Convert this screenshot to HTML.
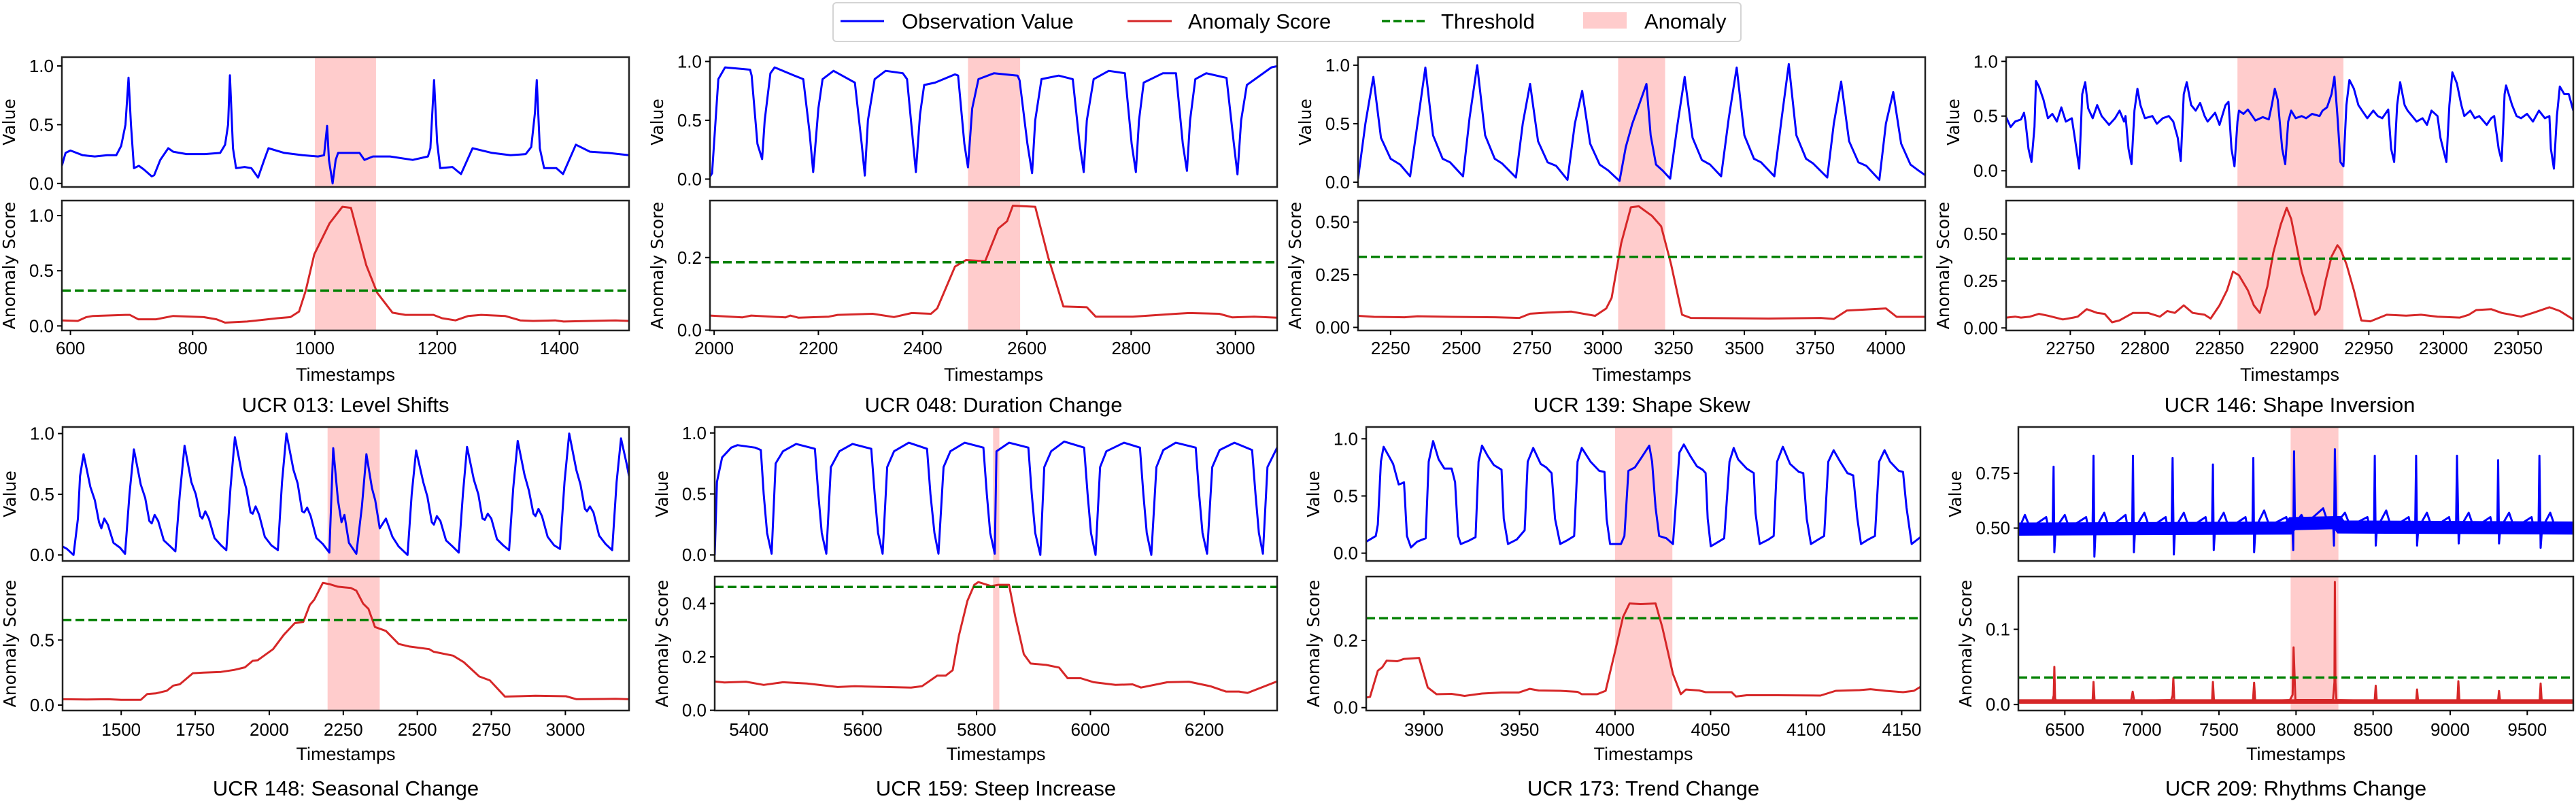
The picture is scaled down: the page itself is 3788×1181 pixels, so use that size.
<!DOCTYPE html>
<html><head><meta charset="utf-8"><style>
html,body{margin:0;padding:0;background:#fff}
svg{display:block}
.tk{font-family:"Liberation Sans",sans-serif;font-size:26px;fill:#000}
.yl{font-family:"DejaVu Sans",sans-serif;font-size:25px;fill:#000}
.xl{font-family:"Liberation Sans",sans-serif;font-size:27px;fill:#000}
.ti{font-family:"Liberation Sans",sans-serif;font-size:31px;fill:#000}
.lg{font-family:"Liberation Sans",sans-serif;font-size:31px;fill:#000}
</style></head><body>
<svg id="fig" xmlns="http://www.w3.org/2000/svg" width="3788" height="1181" viewBox="0 0 3788 1181">
<g>
<rect x="1225" y="4" width="1335" height="57" rx="5" fill="#fff" stroke="#d4d4d4" stroke-width="2"/>
<line x1="1236" y1="31" x2="1300" y2="31" stroke="#0000ff" stroke-width="3"/>
<text class="lg" x="1326" y="42">Observation Value</text>
<line x1="1658" y1="31" x2="1723" y2="31" stroke="#d62728" stroke-width="3"/>
<text class="lg" x="1747" y="42">Anomaly Score</text>
<line x1="2032" y1="31" x2="2096" y2="31" stroke="#008000" stroke-width="3.5" stroke-dasharray="12 5"/>
<text class="lg" x="2119" y="42">Threshold</text>
<rect x="2328" y="18" width="64" height="24" fill="#ffcccc"/>
<text class="lg" x="2418" y="42">Anomaly</text>
</g>
</svg>
<script>
// ---------- data ----------
const titles=["UCR 013: Level Shifts","UCR 048: Duration Change","UCR 139: Shape Skew","UCR 146: Shape Inversion","UCR 148: Seasonal Change","UCR 159: Steep Increase","UCR 173: Trend Change","UCR 209: Rhythms Change"];
const thresholds=[0.32,0.187,0.335,0.369,0.655,0.462,0.266,0.0358];
const anomalyStart=[1000,2487,3054,22862,2197,5829,4000,7965];
const anomalyEnd=[1100,2587,3220,22933,2373,5840,4030,8275];
const noiseAmpObs=[0,0,0,0,0,0,0,0.03];
const noiseAmpScore=[0,0,0,0,0,0,0,0.003];
const obs8Base=[[6199,0.495],[7950,0.5],[7975,0.52],[8270,0.525],[8290,0.505],[9799,0.5]];
const score8Base=[[6199,0.004],[9799,0.004]];

const xTicks=[[600,800,1000,1200,1400],[2000,2200,2400,2600,2800,3000],[2250,2500,2750,3000,3250,3500,3750,4000],[22750,22800,22850,22900,22950,23000,23050],[1500,1750,2000,2250,2500,2750,3000],[5400,5600,5800,6000,6200],[3900,3950,4000,4050,4100,4150],[6500,7000,7500,8000,8500,9000,9500]];
const topYTicks=[[0,0.5,1],[0,0.5,1],[0,0.5,1],[0,0.5,1],[0,0.5,1],[0,0.5,1],[0,0.5,1],[0.5,0.75]];
const topYLabels=[["0.0","0.5","1.0"],["0.0","0.5","1.0"],["0.0","0.5","1.0"],["0.0","0.5","1.0"],["0.0","0.5","1.0"],["0.0","0.5","1.0"],["0.0","0.5","1.0"],["0.50","0.75"]];
const botYTicks=[[0,0.5,1],[0,0.2],[0,0.25,0.5],[0,0.25,0.5],[0,0.5],[0,0.2,0.4],[0,0.2],[0,0.1]];
const botYLabels=[["0.0","0.5","1.0"],["0.0","0.2"],["0.00","0.25","0.50"],["0.00","0.25","0.50"],["0.0","0.5"],["0.0","0.2","0.4"],["0.0","0.2"],["0.0","0.1"]];

const obs1=[[586,0.15],[592,0.26],[600,0.28],[620,0.24],[640,0.23],[660,0.24],[675,0.24],[683,0.32],[690,0.5],[695,0.9],[699,0.5],[704,0.13],[712,0.15],[720,0.12],[733,0.06],[737,0.07],[747,0.2],[760,0.3],[768,0.27],[790,0.25],[820,0.25],[845,0.26],[853,0.33],[858,0.5],[861,0.92],[866,0.3],[871,0.13],[885,0.14],[896,0.13],[907,0.05],[917,0.2],[924,0.3],[950,0.26],[980,0.24],[1005,0.23],[1015,0.24],[1020,0.49],[1023,0.2],[1029,0.0],[1034,0.2],[1038,0.26],[1060,0.26],[1073,0.26],[1081,0.2],[1095,0.23],[1123,0.23],[1160,0.2],[1185,0.23],[1189,0.3],[1195,0.88],[1200,0.35],[1205,0.13],[1225,0.14],[1239,0.08],[1258,0.3],[1290,0.26],[1320,0.24],[1345,0.25],[1354,0.31],[1360,0.6],[1363,0.88],[1368,0.3],[1375,0.13],[1395,0.13],[1406,0.08],[1427,0.33],[1450,0.27],[1480,0.26],[1514,0.24]];
const score1=[[586,0.05],[612,0.045],[626,0.08],[637,0.09],[690,0.1],[697,0.1],[711,0.06],[740,0.06],[768,0.09],[818,0.08],[839,0.06],[853,0.03],[889,0.04],[939,0.07],[960,0.08],[974,0.13],[985,0.32],[999,0.65],[1024,0.93],[1045,1.08],[1059,1.07],[1084,0.55],[1102,0.3],[1127,0.12],[1148,0.1],[1194,0.1],[1208,0.07],[1230,0.05],[1251,0.09],[1272,0.1],[1311,0.09],[1336,0.05],[1357,0.045],[1393,0.05],[1407,0.04],[1492,0.05],[1514,0.045]];

const obs2=[[1992,0.02],[1996,0.05],[2008,0.85],[2021,0.95],[2069,0.93],[2072,0.88],[2083,0.3],[2092,0.17],[2097,0.5],[2108,0.9],[2116,0.95],[2154,0.88],[2171,0.85],[2183,0.4],[2190,0.06],[2200,0.6],[2208,0.85],[2229,0.92],[2266,0.83],[2270,0.82],[2283,0.3],[2289,0.03],[2295,0.5],[2308,0.85],[2329,0.92],[2362,0.9],[2370,0.85],[2387,0.06],[2395,0.55],[2403,0.8],[2424,0.82],[2462,0.89],[2468,0.88],[2480,0.3],[2487,0.1],[2495,0.6],[2507,0.85],[2537,0.9],[2582,0.88],[2586,0.84],[2601,0.3],[2610,0.05],[2616,0.5],[2628,0.85],[2661,0.88],[2688,0.85],[2701,0.3],[2709,0.06],[2715,0.5],[2728,0.85],[2757,0.92],[2788,0.9],[2801,0.3],[2809,0.06],[2815,0.5],[2824,0.82],[2861,0.9],[2886,0.9],[2899,0.3],[2907,0.07],[2913,0.5],[2923,0.85],[2944,0.9],[2983,0.86],[2997,0.3],[3004,0.04],[3011,0.5],[3022,0.8],[3069,0.95],[3080,0.96]];
const score2=[[1992,0.04],[2054,0.035],[2071,0.04],[2137,0.035],[2146,0.04],[2162,0.034],[2220,0.037],[2237,0.042],[2304,0.045],[2345,0.036],[2379,0.047],[2416,0.045],[2428,0.06],[2462,0.175],[2483,0.193],[2520,0.19],[2545,0.28],[2562,0.3],[2573,0.343],[2616,0.34],[2641,0.2],[2670,0.065],[2715,0.063],[2732,0.037],[2803,0.037],[2886,0.045],[2911,0.047],[2969,0.045],[2994,0.035],[3036,0.037],[3080,0.034]];

const obs3=[[2135,0.03],[2161,0.5],[2189,0.9],[2216,0.38],[2250,0.2],[2284,0.15],[2319,0.05],[2345,0.5],[2373,0.98],[2400,0.4],[2434,0.2],[2460,0.17],[2506,0.05],[2529,0.55],[2556,1.0],[2584,0.4],[2618,0.2],[2644,0.16],[2693,0.04],[2717,0.5],[2743,0.84],[2771,0.35],[2805,0.17],[2835,0.14],[2875,0.02],[2901,0.5],[2927,0.78],[2955,0.33],[2989,0.15],[3019,0.1],[3059,0.01],[3081,0.3],[3104,0.5],[3119,0.6],[3154,0.84],[3169,0.4],[3188,0.15],[3211,0.1],[3238,0.03],[3264,0.5],[3289,0.9],[3317,0.38],[3350,0.19],[3379,0.15],[3418,0.05],[3445,0.55],[3473,0.98],[3500,0.4],[3534,0.2],[3559,0.17],[3606,0.05],[3632,0.55],[3657,1.01],[3684,0.4],[3718,0.2],[3743,0.16],[3793,0.04],[3816,0.5],[3842,0.86],[3870,0.35],[3903,0.17],[3931,0.14],[3977,0.02],[4000,0.5],[4026,0.77],[4054,0.33],[4087,0.15],[4115,0.1],[4139,0.06]];
const score3=[[2135,0.055],[2192,0.05],[2299,0.048],[2345,0.053],[2468,0.05],[2621,0.048],[2705,0.045],[2743,0.065],[2805,0.07],[2889,0.075],[2973,0.055],[3012,0.09],[3031,0.14],[3065,0.4],[3099,0.57],[3127,0.575],[3173,0.53],[3206,0.48],[3241,0.3],[3280,0.06],[3311,0.045],[3586,0.042],[3770,0.045],[3816,0.04],[3862,0.08],[4000,0.09],[4038,0.05],[4139,0.05]];

const obs4=[[22707,0.49],[22710,0.4],[22713,0.45],[22717,0.47],[22719,0.53],[22720,0.45],[22722,0.2],[22724,0.08],[22726,0.4],[22727,0.82],[22729,0.77],[22732,0.65],[22735,0.48],[22738,0.52],[22741,0.45],[22744,0.58],[22747,0.45],[22751,0.48],[22753,0.3],[22756,0.02],[22758,0.7],[22760,0.81],[22762,0.57],[22765,0.48],[22768,0.6],[22771,0.5],[22776,0.42],[22780,0.48],[22783,0.55],[22786,0.45],[22787,0.5],[22789,0.2],[22791,0.06],[22793,0.55],[22795,0.75],[22797,0.6],[22800,0.48],[22805,0.5],[22808,0.43],[22812,0.48],[22816,0.5],[22819,0.45],[22822,0.3],[22824,0.09],[22826,0.7],[22828,0.81],[22831,0.6],[22834,0.55],[22837,0.62],[22840,0.5],[22842,0.45],[22847,0.53],[22850,0.42],[22854,0.6],[22856,0.63],[22858,0.2],[22860,0.04],[22862,0.45],[22863,0.55],[22866,0.52],[22869,0.56],[22872,0.5],[22874,0.46],[22879,0.49],[22883,0.47],[22885,0.6],[22887,0.75],[22889,0.65],[22892,0.2],[22894,0.06],[22896,0.45],[22898,0.55],[22901,0.48],[22905,0.5],[22908,0.48],[22912,0.52],[22917,0.5],[22919,0.55],[22922,0.58],[22925,0.7],[22927,0.86],[22929,0.5],[22931,0.08],[22933,0.04],[22935,0.6],[22937,0.83],[22940,0.75],[22943,0.6],[22946,0.54],[22949,0.48],[22953,0.55],[22956,0.5],[22959,0.48],[22963,0.56],[22965,0.2],[22967,0.08],[22969,0.6],[22971,0.81],[22974,0.6],[22976,0.55],[22979,0.5],[22982,0.45],[22986,0.48],[22989,0.42],[22992,0.55],[22996,0.5],[22998,0.3],[23002,0.08],[23004,0.6],[23006,0.9],[23009,0.8],[23012,0.6],[23014,0.5],[23018,0.55],[23021,0.48],[23024,0.5],[23029,0.42],[23032,0.48],[23034,0.5],[23037,0.2],[23039,0.09],[23041,0.7],[23042,0.78],[23046,0.6],[23049,0.5],[23052,0.48],[23056,0.52],[23060,0.45],[23064,0.55],[23068,0.48],[23071,0.5],[23072,0.2],[23074,0.02],[23076,0.5],[23078,0.77],[23081,0.7],[23084,0.7],[23087,0.55]];
const score4=[[22707,0.055],[22713,0.06],[22717,0.055],[22723,0.06],[22729,0.075],[22735,0.065],[22745,0.045],[22752,0.055],[22755,0.06],[22761,0.1],[22768,0.08],[22773,0.075],[22778,0.03],[22783,0.04],[22792,0.08],[22802,0.08],[22810,0.06],[22815,0.09],[22820,0.08],[22826,0.12],[22832,0.08],[22840,0.07],[22844,0.05],[22850,0.12],[22855,0.2],[22859,0.3],[22863,0.28],[22869,0.2],[22873,0.12],[22877,0.08],[22882,0.22],[22886,0.4],[22891,0.55],[22895,0.64],[22898,0.58],[22905,0.3],[22911,0.15],[22914,0.07],[22917,0.1],[22921,0.25],[22925,0.38],[22929,0.44],[22931,0.42],[22935,0.34],[22940,0.2],[22945,0.04],[22951,0.035],[22962,0.07],[22975,0.065],[22985,0.07],[22996,0.06],[23011,0.055],[23017,0.07],[23022,0.095],[23032,0.1],[23039,0.08],[23052,0.06],[23060,0.08],[23071,0.11],[23078,0.09],[23087,0.045]];

const obs5=[[1302,0.07],[1317,0.05],[1339,0.0],[1354,0.3],[1361,0.65],[1373,0.83],[1396,0.56],[1411,0.45],[1425,0.27],[1433,0.22],[1443,0.3],[1455,0.25],[1474,0.1],[1496,0.06],[1513,0.01],[1528,0.5],[1543,0.87],[1566,0.58],[1581,0.47],[1595,0.28],[1603,0.26],[1613,0.33],[1625,0.28],[1644,0.12],[1666,0.07],[1683,0.03],[1698,0.5],[1714,0.9],[1737,0.6],[1752,0.5],[1767,0.32],[1774,0.3],[1784,0.36],[1796,0.3],[1815,0.14],[1837,0.08],[1855,0.04],[1869,0.55],[1884,0.97],[1907,0.68],[1922,0.55],[1937,0.35],[1944,0.34],[1954,0.4],[1966,0.33],[1985,0.15],[2007,0.08],[2029,0.04],[2043,0.6],[2058,1.0],[2082,0.7],[2096,0.59],[2111,0.36],[2118,0.35],[2128,0.39],[2140,0.32],[2159,0.14],[2181,0.09],[2203,0.02],[2216,0.88],[2232,0.45],[2244,0.27],[2254,0.33],[2269,0.1],[2294,0.01],[2313,0.4],[2328,0.83],[2347,0.55],[2358,0.45],[2373,0.22],[2394,0.3],[2416,0.15],[2437,0.07],[2467,0.0],[2481,0.5],[2496,0.86],[2520,0.6],[2534,0.48],[2549,0.27],[2556,0.25],[2566,0.32],[2578,0.28],[2597,0.12],[2619,0.07],[2640,0.02],[2654,0.5],[2668,0.89],[2691,0.62],[2706,0.5],[2720,0.3],[2728,0.29],[2738,0.34],[2750,0.3],[2769,0.13],[2790,0.08],[2810,0.04],[2824,0.55],[2839,0.94],[2862,0.66],[2877,0.53],[2892,0.34],[2899,0.32],[2909,0.38],[2921,0.32],[2940,0.15],[2962,0.08],[2982,0.05],[2997,0.6],[3013,1.0],[3037,0.7],[3051,0.58],[3066,0.38],[3073,0.36],[3083,0.4],[3095,0.35],[3114,0.16],[3136,0.09],[3158,0.04],[3173,0.6],[3188,0.96],[3207,0.75],[3215,0.65]];
const score5=[[1302,0.045],[1383,0.043],[1456,0.045],[1500,0.04],[1566,0.04],[1588,0.085],[1617,0.09],[1654,0.11],[1676,0.15],[1698,0.16],[1742,0.245],[1778,0.25],[1837,0.255],[1881,0.27],[1918,0.29],[1944,0.34],[1961,0.345],[2013,0.43],[2049,0.54],[2086,0.63],[2115,0.64],[2137,0.77],[2152,0.81],[2181,0.94],[2203,0.93],[2232,0.91],[2276,0.9],[2294,0.88],[2317,0.78],[2335,0.74],[2357,0.6],[2394,0.57],[2437,0.47],[2474,0.45],[2540,0.43],[2555,0.41],[2621,0.38],[2657,0.33],[2709,0.22],[2745,0.19],[2796,0.065],[2840,0.068],[2899,0.072],[3002,0.068],[3038,0.045],[3170,0.048],[3215,0.045]];

const obs6=[[5340,0.0],[5344,0.6],[5353,0.8],[5369,0.88],[5380,0.9],[5411,0.88],[5421,0.86],[5426,0.5],[5432,0.18],[5440,0.01],[5447,0.75],[5460,0.85],[5483,0.91],[5516,0.87],[5522,0.5],[5528,0.18],[5536,0.01],[5544,0.72],[5559,0.85],[5582,0.91],[5615,0.87],[5621,0.5],[5627,0.18],[5635,0.01],[5643,0.72],[5655,0.85],[5681,0.92],[5713,0.87],[5719,0.5],[5726,0.18],[5733,0.01],[5742,0.72],[5754,0.85],[5779,0.92],[5812,0.88],[5818,0.5],[5824,0.18],[5832,0.01],[5835,0.85],[5857,0.92],[5891,0.88],[5897,0.5],[5903,0.18],[5912,0.0],[5919,0.72],[5931,0.85],[5954,0.93],[5989,0.88],[5995,0.5],[6001,0.18],[6009,0.0],[6017,0.72],[6028,0.85],[6059,0.92],[6087,0.88],[6093,0.5],[6099,0.18],[6107,0.0],[6116,0.72],[6128,0.86],[6150,0.92],[6185,0.88],[6191,0.5],[6197,0.18],[6205,0.01],[6214,0.72],[6227,0.86],[6253,0.92],[6284,0.86],[6290,0.5],[6296,0.18],[6303,0.01],[6311,0.72],[6328,0.88]];
const score6=[[5340,0.108],[5357,0.104],[5395,0.107],[5426,0.095],[5460,0.105],[5502,0.1],[5556,0.087],[5586,0.09],[5685,0.085],[5704,0.09],[5731,0.13],[5746,0.13],[5758,0.15],[5769,0.28],[5784,0.41],[5796,0.47],[5803,0.48],[5826,0.465],[5838,0.47],[5857,0.47],[5868,0.35],[5883,0.21],[5895,0.175],[5922,0.17],[5945,0.16],[5960,0.12],[5983,0.12],[6006,0.105],[6044,0.095],[6074,0.097],[6089,0.085],[6135,0.105],[6173,0.107],[6211,0.09],[6238,0.07],[6261,0.07],[6276,0.065],[6328,0.108]];

const obs7=[[3869.8,0.1],[3874.8,0.15],[3875.9,0.25],[3877.5,0.8],[3878.9,0.93],[3881.6,0.85],[3883.9,0.78],[3886.8,0.6],[3888.4,0.61],[3889.6,0.62],[3891.1,0.15],[3893.2,0.05],[3896.4,0.1],[3900.9,0.13],[3902.5,0.8],[3904.8,0.98],[3907.7,0.82],[3910.7,0.74],[3914.5,0.74],[3916.3,0.62],[3917.9,0.15],[3919.3,0.08],[3923.6,0.11],[3927.0,0.14],[3928.6,0.8],[3930.4,0.94],[3933.4,0.85],[3936.6,0.77],[3940.6,0.73],[3941.8,0.3],[3944.0,0.08],[3948.6,0.12],[3952.7,0.2],[3954.3,0.8],[3957.2,0.92],[3961.1,0.78],[3964.0,0.75],[3966.8,0.7],[3968.6,0.3],[3971.3,0.08],[3974.7,0.11],[3978.6,0.15],[3980.4,0.8],[3982.6,0.92],[3987.2,0.8],[3991.7,0.72],[3994.5,0.71],[3995.6,0.3],[3997.4,0.08],[4003.1,0.08],[4004.9,0.15],[4007.0,0.72],[4010.4,0.75],[4014.0,0.84],[4017.9,0.94],[4019.4,0.8],[4021.2,0.4],[4023.1,0.15],[4026.9,0.13],[4030.3,0.08],[4033.7,0.88],[4036.0,0.95],[4039.4,0.85],[4042.8,0.76],[4045.8,0.73],[4047.4,0.7],[4048.5,0.3],[4050.1,0.06],[4054.2,0.1],[4057.1,0.13],[4059.9,0.8],[4062.1,0.92],[4064.4,0.82],[4068.9,0.74],[4072.6,0.7],[4073.5,0.35],[4075.7,0.08],[4080.3,0.12],[4083.0,0.15],[4084.8,0.8],[4087.8,0.93],[4091.6,0.78],[4096.2,0.71],[4098.5,0.7],[4100.3,0.3],[4102.5,0.08],[4106.4,0.12],[4109.4,0.15],[4111.6,0.8],[4114.4,0.9],[4117.8,0.8],[4121.6,0.7],[4124.6,0.68],[4126.8,0.3],[4128.7,0.08],[4132.5,0.12],[4136.0,0.15],[4138.2,0.8],[4141.0,0.9],[4143.9,0.8],[4148.4,0.72],[4150.7,0.71],[4152.5,0.4],[4155.2,0.08],[4159.8,0.14]];
const score7=[[3869.8,0.03],[3871.8,0.032],[3875.9,0.11],[3878.2,0.12],[3880.5,0.14],[3886.1,0.138],[3889.6,0.145],[3897.5,0.148],[3902.0,0.06],[3906.6,0.04],[3914.5,0.041],[3921.3,0.035],[3930.4,0.042],[3940.6,0.045],[3949.7,0.045],[3955.4,0.056],[3960.0,0.051],[3971.3,0.05],[3980.4,0.047],[3982.6,0.04],[3990.6,0.04],[3995.1,0.05],[3999.7,0.16],[4004.2,0.27],[4007.6,0.31],[4013.3,0.308],[4021.2,0.31],[4024.7,0.24],[4030.3,0.1],[4034.4,0.04],[4037.1,0.054],[4044.0,0.051],[4047.4,0.046],[4061.0,0.046],[4063.3,0.033],[4068.9,0.037],[4084.8,0.037],[4107.5,0.036],[4115.5,0.05],[4128.0,0.052],[4133.7,0.055],[4141.6,0.05],[4150.7,0.046],[4156.4,0.05],[4159.8,0.062]];

const obs8=[[6199,0.49],[6241,0.56],[6275,0.5],[6379,0.55],[6393,0.5],[6421,0.5],[6427,0.78],[6432,0.39],[6441,0.5],[6500,0.56],[6528,0.5],[6638,0.55],[6652,0.5],[6680,0.5],[6686,0.83],[6692,0.37],[6700,0.5],[6756,0.57],[6787,0.5],[6894,0.56],[6908,0.5],[6937,0.5],[6942,0.83],[6948,0.39],[6956,0.5],[7016,0.57],[7049,0.5],[7154,0.55],[7168,0.5],[7193,0.5],[7199,0.82],[7207,0.38],[7215,0.5],[7272,0.57],[7306,0.5],[7413,0.55],[7427,0.5],[7455,0.5],[7461,0.79],[7466,0.4],[7475,0.5],[7531,0.57],[7565,0.5],[7672,0.55],[7686,0.5],[7717,0.5],[7723,0.82],[7728,0.39],[7737,0.5],[7793,0.58],[7827,0.51],[7937,0.55],[7951,0.51],[7976,0.51],[7982,0.4],[7987,0.85],[7993,0.52],[8035,0.56],[8063,0.52],[8176,0.59],[8204,0.53],[8241,0.53],[8246,0.42],[8252,0.86],[8261,0.52],[8317,0.57],[8351,0.51],[8463,0.55],[8478,0.5],[8506,0.5],[8511,0.83],[8517,0.42],[8525,0.5],[8585,0.58],[8618,0.5],[8731,0.55],[8745,0.5],[8773,0.5],[8779,0.83],[8785,0.42],[8793,0.5],[8849,0.57],[8883,0.5],[8993,0.55],[9007,0.5],[9038,0.5],[9044,0.83],[9055,0.43],[9063,0.5],[9120,0.57],[9154,0.5],[9261,0.55],[9275,0.5],[9306,0.5],[9311,0.81],[9317,0.43],[9325,0.5],[9382,0.57],[9416,0.5],[9528,0.55],[9542,0.5],[9573,0.5],[9579,0.83],[9587,0.41],[9596,0.5],[9649,0.57],[9683,0.5],[9799,0.5]];
const score8=[[6199,0.004],[6420,0.005],[6428,0.012],[6432,0.05],[6437,0.008],[6445,0.004],[6680,0.004],[6686,0.03],[6693,0.004],[6930,0.005],[6940,0.017],[6950,0.005],[7190,0.006],[7199,0.012],[7204,0.035],[7210,0.005],[7455,0.004],[7461,0.03],[7468,0.004],[7720,0.004],[7728,0.029],[7735,0.004],[7960,0.006],[7978,0.013],[7984,0.076],[7990,0.04],[7996,0.006],[8240,0.006],[8249,0.03],[8252,0.163],[8256,0.03],[8262,0.006],[8510,0.005],[8517,0.025],[8524,0.004],[8779,0.004],[8785,0.02],[8792,0.004],[9047,0.005],[9053,0.031],[9060,0.004],[9310,0.004],[9317,0.018],[9324,0.004],[9580,0.004],[9587,0.028],[9594,0.004],[9799,0.004]];

const obsSeries=[obs1,obs2,obs3,obs4,obs5,obs6,obs7,obs8];
const scoreSeries=[score1,score2,score3,score4,score5,score6,score7,score8];
const obsBase=[null,null,null,null,null,null,null,obs8Base];
const scoreBase=[null,null,null,null,null,null,null,score8Base];

// ---------- layout (axis limits & pixel frames) ----------
const xLim=[[586,1514],[1992,3080],[2135,4139],[22707,23087],[1302,3215],[5340,6328],[3869.8,4159.8],[6198.6,9798.6]];
const topLim=[[-0.03,1.075],[-0.067,1.037],[-0.041,1.069],[-0.148,1.039],[-0.049,1.054],[-0.049,1.049],[-0.068,1.103],[0.35,0.961]];
const botLim=[[-0.041,1.136],[-0.001,0.357],[-0.0145,0.602],[-0.0135,0.678],[-0.042,0.988],[-0.001,0.5007],[-0.0086,0.39],[-0.008,0.1701]];
const frames=[[91,925,0],[1044,1878,0],[1997,2831,0],[2950,3784,0],[92,925,1],[1051,1878,1],[2009,2824,1],[2968,3784,1]];
const rows=[{tt:84,tb:275,bt:295,bb:486,tick:512,xl:551,title:595},{tt:628,tb:825,bt:848,bb:1045,tick:1073,xl:1109,title:1159}];

const NS="http://www.w3.org/2000/svg";
const svg=document.getElementById("fig");
function el(tag,parent){const e=document.createElementNS(NS,tag);parent.appendChild(e);return e;}
function lin(d0,d1,r0,r1){return v=>r0+(v-d0)/(d1-d0)*(r1-r0);}
const defs=el("defs",svg);

for(let i=0;i<8;i++){
  const [x0,x1,r]=frames[i];const R=rows[r];
  const xs=lin(xLim[i][0],xLim[i][1],x0,x1);
  const g=el("g",svg);
  
  
  const subs=[{t:R.tt,b:R.tb,lim:topLim[i],data:obsSeries[i],base:obsBase[i],col:"#0000ff",name:"value",noise:noiseAmpObs[i],yt:topYTicks[i],yl:topYLabels[i],lab:"Value"},
              {t:R.bt,b:R.bb,lim:botLim[i],data:scoreSeries[i],base:scoreBase[i],col:"#d62728",name:"score",noise:noiseAmpScore[i],yt:botYTicks[i],yl:botYLabels[i],lab:"Anomaly Score"}];
  subs.forEach((s,k)=>{
    const ys=lin(s.lim[0],s.lim[1],s.b,s.t);
    const cid="c"+i+"_"+k;
    const cp=el("clipPath",defs);cp.setAttribute("id",cid);
    const cr=el("rect",cp);cr.setAttribute("x",x0);cr.setAttribute("y",s.t);cr.setAttribute("width",x1-x0);cr.setAttribute("height",s.b-s.t);
    const ag=el("g",g);ag.setAttribute("clip-path","url(#"+cid+")");
    
    
    const an=el("rect",ag);
    
    
    const ax0=xs(anomalyStart[i]),ax1=xs(anomalyEnd[i]);
    an.setAttribute("x",ax0);an.setAttribute("y",s.t);an.setAttribute("width",Math.max(ax1-ax0,1));an.setAttribute("height",s.b-s.t);an.setAttribute("fill","#ffcccc");
    if(s.noise>0 && s.base){
      const band=el("polyline",ag);
      
      
      band.setAttribute("points",s.base.map(p=>xs(p[0]).toFixed(1)+","+ys(p[1]).toFixed(1)).join(" "));
      band.setAttribute("fill","none");band.setAttribute("stroke",s.col);
      band.setAttribute("stroke-width",(Math.abs(ys(s.noise)-ys(0))*2).toFixed(1));
    }
    const pl=el("polyline",ag);
    
    
    pl.setAttribute("points",s.data.map(p=>xs(p[0]).toFixed(1)+","+ys(p[1]).toFixed(1)).join(" "));
    pl.setAttribute("fill","none");pl.setAttribute("stroke",s.col);pl.setAttribute("stroke-width","3");pl.setAttribute("stroke-linejoin","round");
    if(k===1){
      const th=el("line",ag);
      
      
      const ty=ys(thresholds[i]);
      th.setAttribute("x1",x0);th.setAttribute("x2",x1);th.setAttribute("y1",ty);th.setAttribute("y2",ty);
      th.setAttribute("stroke","#008000");th.setAttribute("stroke-width","3.5");th.setAttribute("stroke-dasharray","13 6");
    }
    const fr=el("rect",g);
    
    
    fr.setAttribute("x",x0);fr.setAttribute("y",s.t);fr.setAttribute("width",x1-x0);fr.setAttribute("height",s.b-s.t);
    fr.setAttribute("fill","none");fr.setAttribute("stroke","#222");fr.setAttribute("stroke-width","2.5");
    let maxLen=0;
    s.yt.forEach((v,j)=>{
      const y=ys(v);
      const tl=el("line",g);
      
      
      tl.setAttribute("x1",x0-7);tl.setAttribute("x2",x0);tl.setAttribute("y1",y);tl.setAttribute("y2",y);tl.setAttribute("stroke","#000");tl.setAttribute("stroke-width","2");
      const tx=el("text",g);
      
      
      tx.setAttribute("class","tk");tx.setAttribute("x",x0-12);tx.setAttribute("y",y+9);tx.setAttribute("text-anchor","end");
      tx.textContent=s.yl[j];maxLen=Math.max(maxLen,s.yl[j].length);
    });
    const off=maxLen>=4?93:78;
    const yl=el("text",g);
    
    
    const cx=x0-off,cy=(s.t+s.b)/2;
    yl.setAttribute("class","yl");yl.setAttribute("text-anchor","middle");
    yl.setAttribute("transform","translate("+(cx+9)+","+cy+") rotate(-90)");
    yl.setAttribute("x",0);yl.setAttribute("y",0);
    yl.textContent=s.lab;
  });
  xTicks[i].forEach(v=>{
    const x=xs(v);
    const tl=el("line",g);
    
    
    tl.setAttribute("x1",x);tl.setAttribute("x2",x);tl.setAttribute("y1",R.bb);tl.setAttribute("y2",R.bb+7);tl.setAttribute("stroke","#000");tl.setAttribute("stroke-width","2");
    const tx=el("text",g);
    
    
    tx.setAttribute("class","tk");tx.setAttribute("x",x);tx.setAttribute("y",R.tick+9);tx.setAttribute("text-anchor","middle");
    tx.textContent=String(v);
  });
  const xl=el("text",g);
  
  
  xl.setAttribute("class","xl");xl.setAttribute("x",(x0+x1)/2);xl.setAttribute("y",R.xl+9);xl.setAttribute("text-anchor","middle");
  xl.textContent="Timestamps";
  const ti=el("text",g);
  
  
  ti.setAttribute("class","ti");ti.setAttribute("x",(x0+x1)/2);ti.setAttribute("y",R.title+11);ti.setAttribute("text-anchor","middle");
  ti.textContent=titles[i];
}
</script>
</body></html>
